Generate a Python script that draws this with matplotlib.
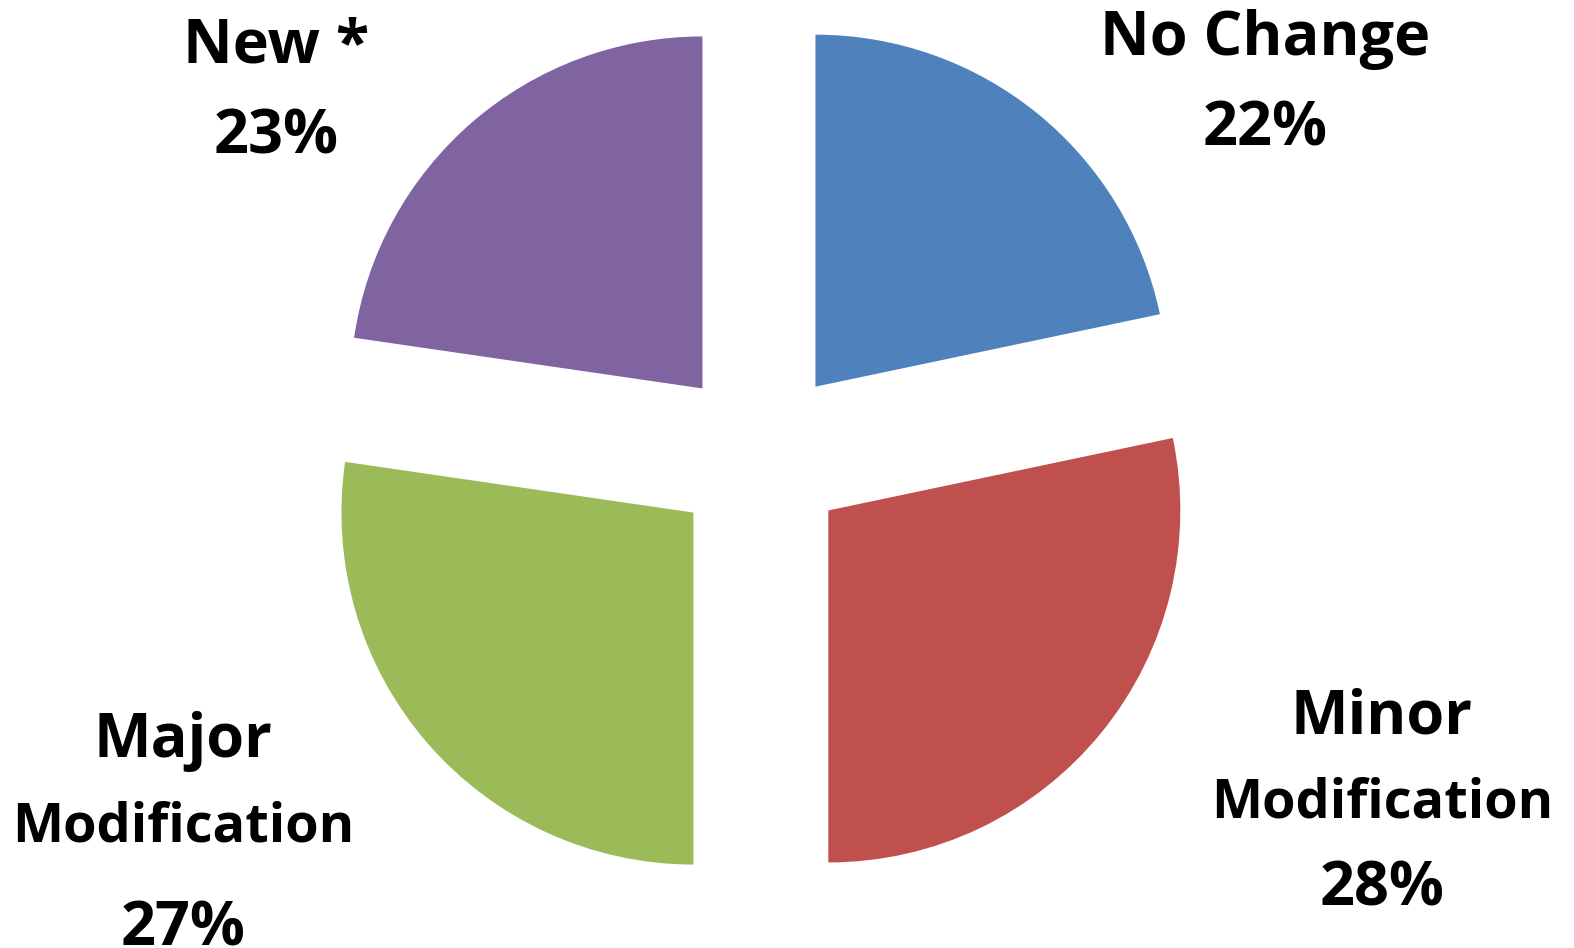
import matplotlib.pyplot as plt

# data (slice angles suggest unrounded shares)
categories = ["No Change", "Minor\nModification", "Major\nModification", "New *"]
shares = [21.7, 28.3, 27.3, 22.7]
colors = ["#4F81BD", "#C0504D", "#9BBB59", "#8064A2"]

W, H = 1574, 948

plt.rcParams["font.family"] = ["Open Sans", "DejaVu Sans"]

fig = plt.figure(figsize=(W / 100, H / 100), dpi=100)
ax = fig.add_axes([0, 0, 1, 1])

# explode is in data units (pixels here), not a fraction of the radius
ax.pie(
    shares,
    colors=colors,
    startangle=90,
    counterclock=False,
    explode=[88] * len(shares),
    radius=352,
    center=(760, H - 455),
    wedgeprops={"linewidth": 0},
)
ax.set_xlim(0, W)
ax.set_ylim(0, H)
ax.set_aspect("equal")
ax.axis("off")

# label layout (pixel positions, y measured from top)
big, small = 44, 39
label_pos = [(1265, 55), (1382, 733), (183, 757), (276, 62)]
line_gap = [90, 84, 85, 91]
pct_gap = [90, 172, 188, 91]

for cat, share, (x, y), g, pg in zip(categories, shares, label_pos, line_gap, pct_gap):
    lines = cat.split("\n")
    ax.text(x, H - y, lines[0], ha="center", va="baseline",
            fontsize=big, fontweight="bold")
    if len(lines) > 1:
        ax.text(x, H - (y + g), lines[1], ha="center", va="baseline",
                fontsize=small, fontweight="bold")
    ax.text(x, H - (y + pg), f"{share:.0f}%", ha="center", va="baseline",
            fontsize=big, fontweight="bold")

fig.savefig("out.png", dpi=100)
